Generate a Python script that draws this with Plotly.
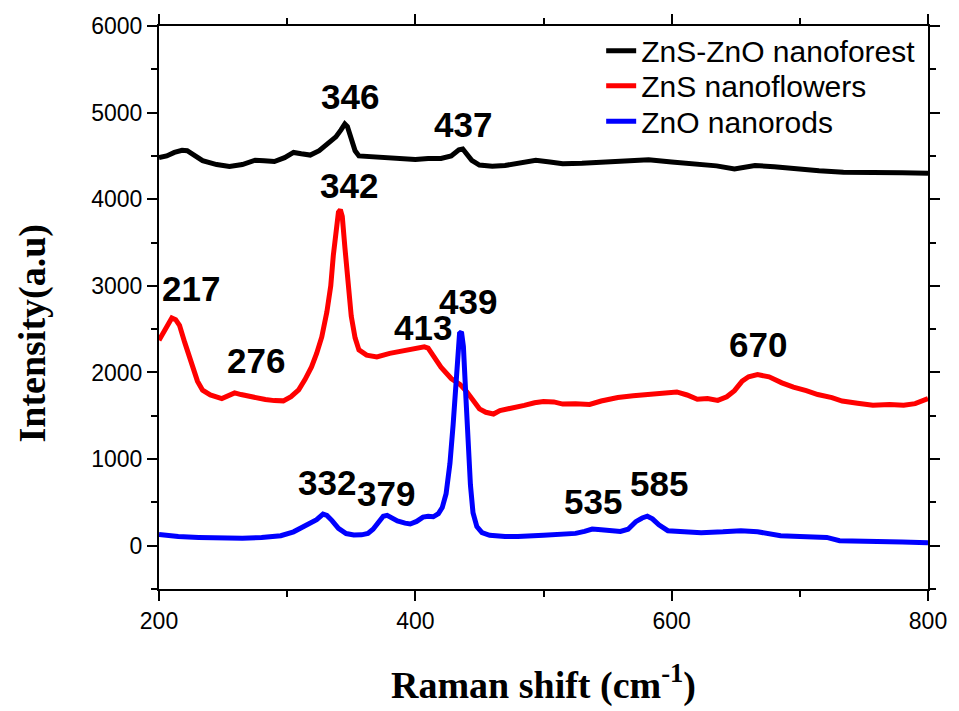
import plotly.graph_objects as go

# ---- data ----
forest_x = [200, 206, 212, 218, 222, 228, 234, 245, 255, 265, 275, 282, 290, 298, 305, 311, 318, 325, 332, 338,
            342, 345, 347, 350, 353, 356, 365, 375, 390, 400, 410, 420, 428, 434, 437, 440, 444, 450, 460, 470,
            480, 494, 505, 515, 530, 545, 560, 582, 600, 618, 635, 649, 657, 665, 680, 695, 715, 734, 760, 780, 800]
forest_y = [4480, 4500, 4540, 4565, 4560, 4500, 4445, 4400, 4378, 4400, 4450, 4445, 4435, 4480, 4540, 4525, 4510,
            4560, 4640, 4720, 4800, 4870, 4840, 4680, 4560, 4500, 4490, 4480, 4470, 4460, 4470, 4470, 4500, 4570,
            4580, 4520, 4450, 4395, 4380, 4390, 4410, 4450, 4430, 4410, 4415, 4430, 4440, 4455, 4430, 4408, 4385,
            4350, 4370, 4390, 4375, 4350, 4330, 4312, 4300, 4305, 4300]

flower_x = [200, 205, 210, 213, 216, 220, 226, 230, 234, 240, 249, 254, 259, 264, 270, 276, 283, 290, 297, 303,
            309, 314, 319, 323, 327, 331, 334, 336, 338, 340, 341.5, 343, 345, 347, 350, 353, 356, 362, 370, 380,
            390, 400, 407, 410, 415, 420, 428, 435, 440, 445, 450, 455, 461, 466, 472, 478, 485, 493, 500, 508,
            515, 525, 536, 545, 558, 570, 580, 590, 600, 604, 612, 620, 628, 636, 643, 649, 655, 660, 667, 676,
            686, 695, 705, 714, 725, 733, 745, 757, 770, 781, 790, 800]
flower_y = [2372, 2500, 2630, 2610, 2545, 2350, 2064, 1900, 1795, 1740, 1699, 1730, 1764, 1745, 1726, 1700, 1687,
            1675, 1672, 1720, 1800, 1920, 2064, 2220, 2410, 2700, 3000, 3350, 3640, 3850, 3880, 3800, 3450, 3063,
            2650, 2400, 2260, 2200, 2179, 2220, 2250, 2270, 2295, 2280, 2170, 2060, 1930, 1860, 1780, 1680, 1580,
            1540, 1520, 1560, 1575, 1600, 1620, 1650, 1665, 1660, 1635, 1640, 1630, 1670, 1710, 1730, 1745, 1750,
            1765, 1775, 1740, 1690, 1700, 1678, 1720, 1790, 1900, 1950, 1975, 1950, 1880, 1830, 1790, 1745, 1710,
            1670, 1645, 1622, 1630, 1622, 1640, 1700]

rod_x = [200, 215, 231, 250, 265, 280, 295, 305, 316, 323, 328, 331, 335, 340, 346, 352, 358, 363, 367, 371, 375,
         378, 382, 386, 392, 396, 401, 406, 410, 414, 418, 421, 424, 427, 429.5, 432, 434.5, 436, 437.5, 439.5,
         441, 443, 445, 448, 452, 458, 470, 480, 500, 515, 525, 532, 538, 545, 552, 560, 566, 572, 577, 581, 585,
         590, 597, 610, 623, 640, 654, 667, 677, 685, 700, 721, 731, 745, 760, 780, 800]
rod_y = [130, 105, 96, 90, 85, 95, 115, 160, 239, 300, 365, 350, 290, 200, 140, 123, 125, 142, 190, 260, 340, 350,
         310, 285, 260, 250, 280, 330, 340, 334, 370, 440, 600, 950, 1400, 2000, 2450, 2470, 2300, 1700, 1150, 700,
         380, 220, 150, 120, 105, 105, 120, 130, 142, 165, 192, 185, 170, 165, 190, 277, 320, 340, 310, 240, 173,
         160, 150, 160, 173, 161, 140, 115, 105, 96, 58, 50, 46, 42, 35]

series_names = ["ZnS-ZnO nanoforest", "ZnS nanoflowers", "ZnO nanorods"]

peak_labels = ["346", "437", "342", "217", "276", "413", "439", "670", "332", "379", "535", "585"]
peak_label_x = [349, 437, 348, 225, 276, 406, 441, 667, 331, 377, 539, 590]
peak_label_y = [5184, 4864, 4154, 2975, 2140, 2518, 2815, 2323, 732, 607, 515, 721]

x_ticks = [200, 400, 600, 800]
y_ticks = [0, 1000, 2000, 3000, 4000, 5000, 6000]

# ---- figure ----
fig = go.Figure()
colors = ["#000000", "#ff0000", "#0000ff"]
legend_ids = ["legend", "legend2", "legend3"]
legend_rows = [0.956, 0.894, 0.831]
for xs, ys, name, c, lg in zip([forest_x, flower_x, rod_x], [forest_y, flower_y, rod_y],
                               series_names, colors, legend_ids):
    fig.add_trace(go.Scatter(x=xs, y=ys, mode="lines", name=name, legend=lg,
                             line=dict(color=c, width=5)))

for t, x, y in zip(peak_labels, peak_label_x, peak_label_y):
    fig.add_annotation(x=x, y=y, text=f"<b>{t}</b>", showarrow=False,
                       font=dict(family="Liberation Sans, Arial", size=35, color="black"))

fig.add_annotation(xref="paper", yref="paper", x=-0.165, y=0.454, xanchor="center", yanchor="middle",
                   text="<b>Intensity(a.u)</b>", textangle=-90, showarrow=False,
                   font=dict(family="Liberation Serif, Times New Roman", size=38, color="black"))

axis_common = dict(showline=True, linewidth=2, linecolor="black", mirror="ticks", ticks="outside",
                   tickwidth=2, tickcolor="black", ticklen=10, showgrid=False, zeroline=False,
                   tickfont=dict(family="Liberation Sans, Arial", size=23, color="black"))

legend_style = dict(x=0.575, xanchor="left", yanchor="middle", bgcolor="rgba(0,0,0,0)",
                    font=dict(family="Liberation Sans, Arial", size=30, color="black"), itemwidth=30)

fig.update_layout(
    width=959, height=711,
    margin=dict(l=159, r=24, t=26, b=116),
    paper_bgcolor="white", plot_bgcolor="white",
    showlegend=True,
    legend=dict(y=legend_rows[0], **legend_style),
    legend2=dict(y=legend_rows[1], **legend_style),
    legend3=dict(y=legend_rows[2], **legend_style),
    xaxis=dict(range=[200, 800], tickvals=x_ticks,
               minor=dict(dtick=100, ticklen=6, tickwidth=2, tickcolor="black", ticks="outside"),
               title=dict(text="<b>Raman shift (cm<sup>-1</sup>)</b>", standoff=39,
                          font=dict(family="Liberation Serif, Times New Roman", size=38, color="black")),
               **axis_common),
    yaxis=dict(range=[-500, 6000], tickvals=y_ticks,
               minor=dict(dtick=500, ticklen=6, tickwidth=2, tickcolor="black", ticks="outside"),
               **axis_common),
)

fig.write_html("out.html")
